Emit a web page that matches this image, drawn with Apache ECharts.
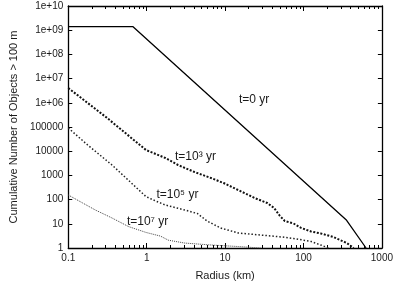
<!DOCTYPE html>
<html>
<head>
<meta charset="utf-8">
<script src="https://cdn.jsdelivr.net/npm/echarts@6/dist/echarts.min.js"></script>
<style>
html,body{margin:0;padding:0;background:#fff;}
#chart{width:396px;height:304px;}
</style>
</head>
<body>
<div id="chart"></div>
<script>
// ---- data ----
var xTickValues = [0.1, 1, 10, 100, 1000];
var yTickValues = [1, 10, 100, 1000, 10000, 100000, 1e6, 1e7, 1e8, 1e9, 1e10];
var xMinorTicks = [0.2,0.3,0.4,0.5,0.6,0.7,0.8,0.9,2,3,4,5,6,7,8,9,20,30,40,50,60,70,80,90,200,300,400,500,600,700,800,900];

var t0R = [0.1, 0.67, 355, 628];
var t0N = [1.4e9, 1.4e9, 14, 1];

var t3R = [0.1, 0.313, 0.979, 1.73, 2.51, 4.07, 6.61, 9.58, 14.7, 23.9, 34.6, 42.2, 50.1, 57.8, 74.7, 93.8, 125, 166, 240, 358, 437];
var t3N = [4.09e6, 2.36e5, 11200, 5240, 2690, 1380, 781, 485, 249, 116, 72, 45, 21, 13, 10.3, 6.7, 4.8, 4.0, 2.85, 1.6, 1];

var t5R = [0.1, 0.177, 0.361, 0.638, 0.979, 1.30, 1.73, 3.06, 4.44, 5.90, 8.80, 14.7, 28.3, 53.0, 74.7, 125, 166, 208];
var t5N = [91000, 18000, 2690, 485, 134, 87.5, 59.8, 37.2, 26.6, 13.0, 6.7, 4.17, 3.44, 2.85, 2.47, 1.86, 1.33, 1];

var t7R = [0.1, 0.153, 0.222, 0.361, 0.586, 0.979, 1.50, 1.89, 3.06, 6.61, 14.7, 28.3];
var t7N = [155, 72, 37, 17.4, 7.7, 4.4, 3.1, 2.1, 1.6, 1.33, 1.15, 1];

var seriesNames = ['t=0 yr', 't=10³ yr', 't=10⁵ yr', 't=10⁷ yr'];
// label anchors (radius, count) where each curve's name is written
var labelR = [15, 2.3, 1.33, 0.56];
var labelN = [1.3e6, 5750, 155, 11.9];

function pairs(xs, ys){ return xs.map(function(x,i){ return [x, ys[i]]; }); }

function yFmt(v){
  var e = Math.round(Math.log10(v));
  if (e >= 6) return '1e+' + (e < 10 ? '0' + e : e);
  return String(Math.round(v));
}
function xFmt(v){ return v < 1 ? String(v) : String(Math.round(v)); }

var FONT = 'Liberation Sans';
var TXT = '#1a1a1a';

var chart = echarts.init(document.getElementById('chart'), null, {renderer:'canvas'});

var baseX = {
  type:'log', logBase:10, min:0.1, max:1000, gridIndex:0,
  splitLine:{show:false}, minorTick:{show:false}
};
var baseY = {
  type:'log', logBase:10, min:1, max:1e10, gridIndex:0,
  splitLine:{show:false}, minorTick:{show:false}
};

var option = {
  animation:false,
  backgroundColor:'#fff',
  grid:{left:60, right:13, top:6, bottom:56, containLabel:false},
  xAxis:[
    Object.assign({}, baseX, {
      position:'bottom',
      name:'Radius (km)', nameLocation:'middle', nameGap:22,
      nameTextStyle:{fontFamily:FONT, fontSize:11, color:TXT},
      axisLine:{show:true, lineStyle:{color:'#000', width:1.3}},
      axisTick:{show:true, inside:true, length:5, lineStyle:{color:'#000', width:1}, customValues:xTickValues},
      axisLabel:{show:true, margin:5, fontFamily:FONT, fontSize:10, color:TXT, customValues:xTickValues.slice(1),
        align:'center', hideOverlap:false, formatter:xFmt}
    }),
    Object.assign({}, baseX, {
      position:'bottom',
      axisLine:{show:false},
      axisTick:{show:true, inside:true, length:3, lineStyle:{color:'#000', width:1}, customValues:xMinorTicks},
      axisLabel:{show:false}
    }),
    Object.assign({}, baseX, {
      position:'top',
      axisLine:{show:true, lineStyle:{color:'#000', width:1.3}},
      axisTick:{show:true, inside:true, length:5, lineStyle:{color:'#000', width:1}, customValues:xTickValues},
      axisLabel:{show:false}
    }),
    Object.assign({}, baseX, {
      position:'top',
      axisLine:{show:false},
      axisTick:{show:true, inside:true, length:3, lineStyle:{color:'#000', width:1}, customValues:xMinorTicks},
      axisLabel:{show:false}
    })
  ],
  yAxis:[
    Object.assign({}, baseY, {
      position:'left',
      name:'Cumulative Number of Objects > 100 m', nameLocation:'middle', nameGap:42, nameRotate:90,
      nameTextStyle:{fontFamily:FONT, fontSize:11, color:TXT},
      axisLine:{show:true, lineStyle:{color:'#000', width:1.3}},
      axisTick:{show:true, inside:true, length:4, lineStyle:{color:'#000', width:1}, customValues:yTickValues},
      axisLabel:{show:true, margin:5, fontFamily:FONT, fontSize:10, color:TXT, customValues:yTickValues,
        hideOverlap:false, formatter:yFmt}
    }),
    Object.assign({}, baseY, {
      position:'right',
      axisLine:{show:true, lineStyle:{color:'#000', width:1.3}},
      axisTick:{show:true, inside:true, length:4, lineStyle:{color:'#000', width:1}, customValues:yTickValues},
      axisLabel:{show:false}
    })
  ],
  series:[
    {name:seriesNames[0], type:'line', xAxisIndex:0, yAxisIndex:0, showSymbol:false, symbol:'none',
     data:pairs(t0R, t0N), lineStyle:{color:'#000', width:1.3, type:'solid'}},
    {name:seriesNames[1], type:'line', xAxisIndex:0, yAxisIndex:0, showSymbol:false, symbol:'none',
     data:pairs(t3R, t3N), lineStyle:{color:'#111', width:2, type:[2,1.6]}},
    {name:seriesNames[2], type:'line', xAxisIndex:0, yAxisIndex:0, showSymbol:false, symbol:'none',
     data:pairs(t5R, t5N), lineStyle:{color:'#222', width:1.5, type:[1.5,2]}},
    {name:seriesNames[3], type:'line', xAxisIndex:0, yAxisIndex:0, showSymbol:false, symbol:'none',
     data:pairs(t7R, t7N), lineStyle:{color:'#444', width:1, type:[1,1]}}
  ]
};
chart.setOption(option);

// text annotations placed near each curve (data coordinates -> pixels)
var gfx = labelR.map(function(r, i){
  var p = chart.convertToPixel({gridIndex:0}, [r, labelN[i]]);
  return {type:'text', x:p[0], y:p[1],
    style:{text:seriesNames[i], fill:TXT, font:'12px "' + FONT + '"', textAlign:'left', textVerticalAlign:'middle'}};
});
// first x tick label, centred under its tick
var p0 = chart.convertToPixel({gridIndex:0}, [xTickValues[0], yTickValues[0]]);
gfx.push({type:'text', x:p0[0], y:p0[1] + 5,
  style:{text:xFmt(xTickValues[0]), fill:TXT, font:'10px "' + FONT + '"', textAlign:'center', textVerticalAlign:'top'}});
chart.setOption({graphic:gfx});
</script>
</body>
</html>
